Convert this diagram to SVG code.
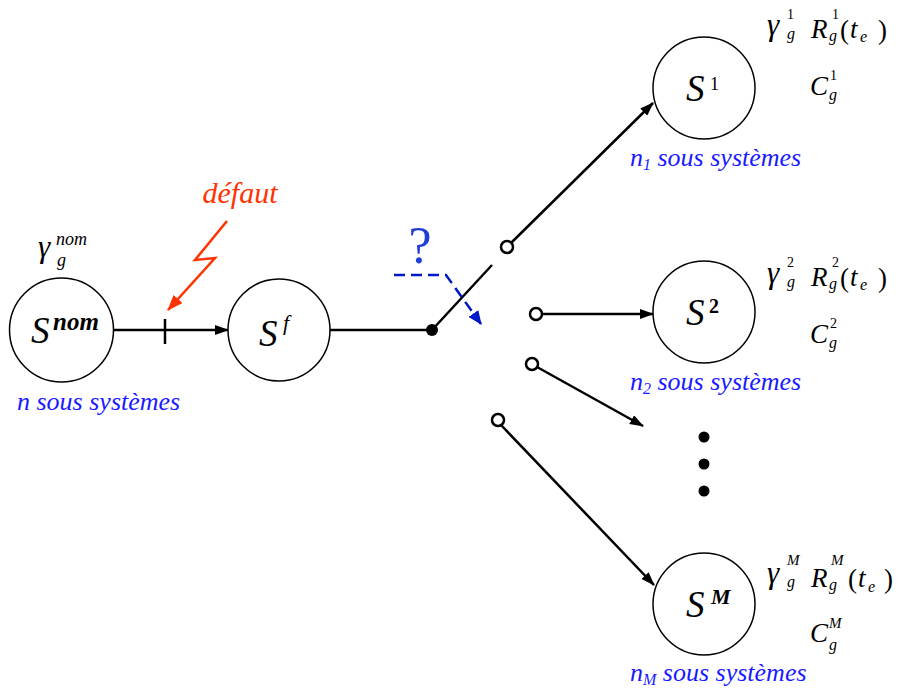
<svg xmlns="http://www.w3.org/2000/svg" width="899" height="688" viewBox="0 0 899 688">
<style>
text{font-family:"Liberation Serif","Times New Roman",serif}
.node{fill:#fff;stroke:#000;stroke-width:1.5}
.conn{stroke:#000;stroke-width:2.5;fill:none}
.term{fill:#fff;stroke:#000;stroke-width:2.5}
.m{font-style:italic;fill:#000}
.up{fill:#000}
.blue{font-style:italic;fill:#1a1aff;font-size:26px}
.S{font-size:37px}
.g{font-size:31px}
.big{font-size:27px}
.sup{font-size:14px}
.sub{font-size:16px}
</style>
<defs>
<marker id="ah" markerUnits="userSpaceOnUse" markerWidth="14" markerHeight="10" refX="13" refY="5" orient="auto">
<path d="M0,0 L14,5 L0,10 z" fill="#000"/>
</marker>
<marker id="ahb" markerUnits="userSpaceOnUse" markerWidth="14" markerHeight="12" refX="13" refY="6" orient="auto">
<path d="M0,0 L14,6 L0,12 z" fill="#0018c8"/>
</marker>
<marker id="ahr" markerUnits="userSpaceOnUse" markerWidth="16" markerHeight="12" refX="15" refY="6" orient="auto">
<path d="M0,0 L16,6 L0,12 z" fill="#ff3300"/>
</marker>
</defs>
<rect width="899" height="688" fill="#fff"/>

<g id="connectors">
<line class="conn" x1="113" y1="330" x2="228" y2="330" marker-end="url(#ah)"/>
<line class="conn" x1="165" y1="319" x2="165" y2="344"/>
<line class="conn" x1="330" y1="330" x2="432" y2="330"/>
<circle cx="432" cy="330" r="6" fill="#000"/>
<line class="conn" x1="432" y1="330" x2="492" y2="265"/>
<line class="conn" x1="511" y1="243" x2="653" y2="103" marker-end="url(#ah)"/>
<line class="conn" x1="542" y1="314" x2="653" y2="314" marker-end="url(#ah)"/>
<line class="conn" x1="537" y1="367" x2="643" y2="426" marker-end="url(#ah)"/>
<line class="conn" x1="501" y1="425" x2="654" y2="585" marker-end="url(#ah)"/>
<circle class="term" cx="507" cy="247" r="6"/>
<circle class="term" cx="536" cy="314" r="6"/>
<circle class="term" cx="532" cy="364" r="6"/>
<circle class="term" cx="498" cy="420" r="6"/>
<path d="M394,275 H446 L481,324" fill="none" stroke="#0018c8" stroke-width="2.5" stroke-dasharray="11 6" marker-end="url(#ahb)"/>
<polyline points="227,221 195,260 215,258 168,310" fill="none" stroke="#ff3300" stroke-width="2.5" marker-end="url(#ahr)"/>
</g>

<g id="dots">
<circle cx="704" cy="437" r="5.5" fill="#000"/>
<circle cx="704" cy="464" r="5.5" fill="#000"/>
<circle cx="704" cy="491" r="5.5" fill="#000"/>
</g>

<g id="labels">
<text x="420" y="263" text-anchor="middle" font-size="52" fill="#1f3fd6">?</text>
<text x="240" y="203" text-anchor="middle" class="m" font-size="30" style="fill:#ff3300">défaut</text>
</g>

<g id="node-Snom">
<circle class="node" cx="61.5" cy="330" r="52"/>
<text class="m S" x="31" y="343">S</text>
<text class="m" x="53" y="330" font-size="25" font-weight="bold">nom</text>
<text class="m" x="38" y="257" font-size="31">γ</text>
<text class="m" x="56" y="245" font-size="18">nom</text>
<text class="m" x="57" y="266" font-size="18">g</text>
<text class="blue" x="17" y="410">n sous systèmes</text>
</g>

<g id="node-Sf">
<circle class="node" cx="279" cy="330" r="51"/>
<text class="m S" x="259" y="346">S</text>
<text class="m" x="283" y="330" font-size="22">f</text>
</g>

<g id="node-S1">
<circle class="node" cx="704" cy="88" r="51"/>
<text class="m S" x="686" y="101">S</text>
<text class="up" x="710" y="90" font-size="18">1</text>
<text class="blue" x="630" y="166">n<tspan font-size="16" dy="4">1</tspan><tspan dy="-4"> sous systèmes</tspan></text>
<text class="m g" x="767" y="35">γ</text>
<text class="up sup" x="787" y="19">1</text>
<text class="m sub" x="787" y="39">g</text>
<text class="m big" x="811" y="38">R</text>
<text class="up sup" x="832" y="19">1</text>
<text class="m sub" x="829" y="41">g</text>
<text class="up big" x="840" y="39">(</text>
<text class="m big" x="850" y="38">t</text>
<text class="m sub" x="860" y="42">e</text>
<text class="up big" x="878" y="39">)</text>
<text class="m big" x="810" y="95">C</text>
<text class="up sup" x="830" y="80">1</text>
<text class="m sub" x="829" y="100">g</text>
</g>

<g id="node-S2">
<circle class="node" cx="704" cy="312" r="51"/>
<text class="m S" x="686" y="325">S</text>
<text class="up" x="709" y="313" font-size="20" font-weight="bold">2</text>
<text class="blue" x="630" y="390">n<tspan font-size="16" dy="4">2</tspan><tspan dy="-4"> sous systèmes</tspan></text>
<text class="m g" x="767" y="283">γ</text>
<text class="up sup" x="787" y="267">2</text>
<text class="m sub" x="787" y="287">g</text>
<text class="m big" x="811" y="286">R</text>
<text class="up sup" x="832" y="267">2</text>
<text class="m sub" x="829" y="289">g</text>
<text class="up big" x="840" y="287">(</text>
<text class="m big" x="850" y="286">t</text>
<text class="m sub" x="860" y="290">e</text>
<text class="up big" x="878" y="287">)</text>
<text class="m big" x="810" y="343">C</text>
<text class="up sup" x="830" y="328">2</text>
<text class="m sub" x="829" y="348">g</text>
</g>

<g id="node-SM">
<circle class="node" cx="704" cy="604" r="51"/>
<text class="m S" x="686" y="617">S</text>
<text class="m" x="711" y="604" font-size="22" font-weight="bold">M</text>
<text class="blue" x="630" y="681">n<tspan font-size="16" dy="4">M</tspan><tspan dy="-4"> sous systèmes</tspan></text>
<text class="m g" x="767" y="583">γ</text>
<text class="m" x="787" y="565" font-size="15">M</text>
<text class="m sub" x="787" y="587">g</text>
<text class="m big" x="811" y="587">R</text>
<text class="m" x="831" y="565" font-size="15">M</text>
<text class="m sub" x="829" y="590">g</text>
<text class="up big" x="848" y="588">(</text>
<text class="m big" x="858" y="587">t</text>
<text class="m sub" x="868" y="592">e</text>
<text class="up big" x="884" y="588">)</text>
<text class="m big" x="810" y="642">C</text>
<text class="m" x="829" y="628" font-size="15">M</text>
<text class="m sub" x="829" y="650">g</text>
</g>
</svg>
